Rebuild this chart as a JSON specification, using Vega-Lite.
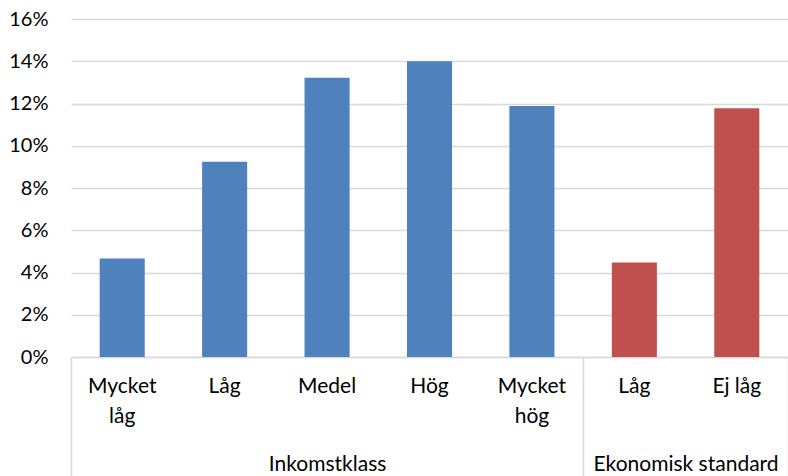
{
  "$schema": "https://vega.github.io/schema/vega-lite/v6.json",
  "width": 717,
  "height": 338,
  "autosize": {"type": "none"},
  "padding": {"left": 71, "top": 19, "right": 0, "bottom": 119},
  "background": "white",
  "config": {
    "font": "Lato",
    "view": {"stroke": null},
    "axis": {"labelFont": "Lato", "labelFontSize": 21, "labelColor": "#000000"}
  },
  "datasets": {
    "bars": [
      {"group": "Inkomstklass", "label": "Mycket låg", "value": 0.0466},
      {"group": "Inkomstklass", "label": "Låg", "value": 0.0924},
      {"group": "Inkomstklass", "label": "Medel", "value": 0.1322},
      {"group": "Inkomstklass", "label": "Hög", "value": 0.1400},
      {"group": "Inkomstklass", "label": "Mycket hög", "value": 0.1188},
      {"group": "Ekonomisk standard", "label": "Låg", "value": 0.0447},
      {"group": "Ekonomisk standard", "label": "Ej låg", "value": 0.1178}
    ],
    "groups": [
      {"group": "Inkomstklass", "start": 0, "mid": 2.5, "end": 5},
      {"group": "Ekonomisk standard", "start": 5, "mid": 6, "end": 7}
    ]
  },
  "layer": [
    {
      "data": {"name": "bars"},
      "transform": [{"calculate": "datum.group + '/' + datum.label", "as": "key"}],
      "mark": {"type": "bar"},
      "encoding": {
        "x": {
          "field": "key",
          "type": "nominal",
          "sort": null,
          "scale": {"paddingInner": 0.56, "paddingOuter": 0.28},
          "axis": {
            "title": null,
            "labelAngle": 0,
            "ticks": false,
            "domainColor": "#d9d9d9",
            "domainWidth": 1.5,
            "labelPadding": 18,
            "labelLineHeight": 30,
            "labelAlign": "center",
            "labelOverlap": false,
            "labelLimit": 0,
            "labelExpr": "split(replace(split(datum.value, '/')[1], 'Mycket ', 'Mycket\\n'), '\\n')"
          }
        },
        "y": {
          "field": "value",
          "type": "quantitative",
          "scale": {"domain": [0, 0.16], "nice": false},
          "axis": {
            "title": null,
            "format": ".0%",
            "values": [0, 0.02, 0.04, 0.06, 0.08, 0.1, 0.12, 0.14, 0.16],
            "ticks": false,
            "domain": false,
            "gridColor": "#d9d9d9",
            "gridWidth": 1.5,
            "labelFontSize": 20,
            "labelPadding": 23
          }
        },
        "color": {
          "field": "group",
          "type": "nominal",
          "scale": {"domain": ["Inkomstklass", "Ekonomisk standard"], "range": ["#4f81bd", "#c0504d"]},
          "legend": null
        }
      }
    },
    {
      "data": {"name": "groups"},
      "mark": {"type": "point", "opacity": 0},
      "encoding": {
        "x": {
          "field": "mid",
          "type": "quantitative",
          "scale": {"domain": [0, 7], "nice": false, "zero": false},
          "axis": {
            "title": null,
            "orient": "bottom",
            "grid": false,
            "domain": false,
            "values": [0, 2.5, 5, 6, 7],
            "tickSize": 119,
            "tickColor": "#d9d9d9",
            "tickWidth": 1.5,
            "tickOpacity": {"condition": {"test": "datum.value == 2.5 || datum.value == 6", "value": 0}, "value": 1},
            "labelBaseline": "alphabetic",
            "labelPadding": -6,
            "labelFlush": false,
            "labelOverlap": false,
            "labelBound": false,
            "labelLimit": 0,
            "labelExpr": "datum.value == 2.5 ? 'Inkomstklass' : (datum.value == 6 ? 'Ekonomisk standard' : '')"
          }
        },
        "y": {"value": 0}
      }
    }
  ],
  "resolve": {"scale": {"x": "independent", "color": "independent"}, "axis": {"x": "independent"}}
}
